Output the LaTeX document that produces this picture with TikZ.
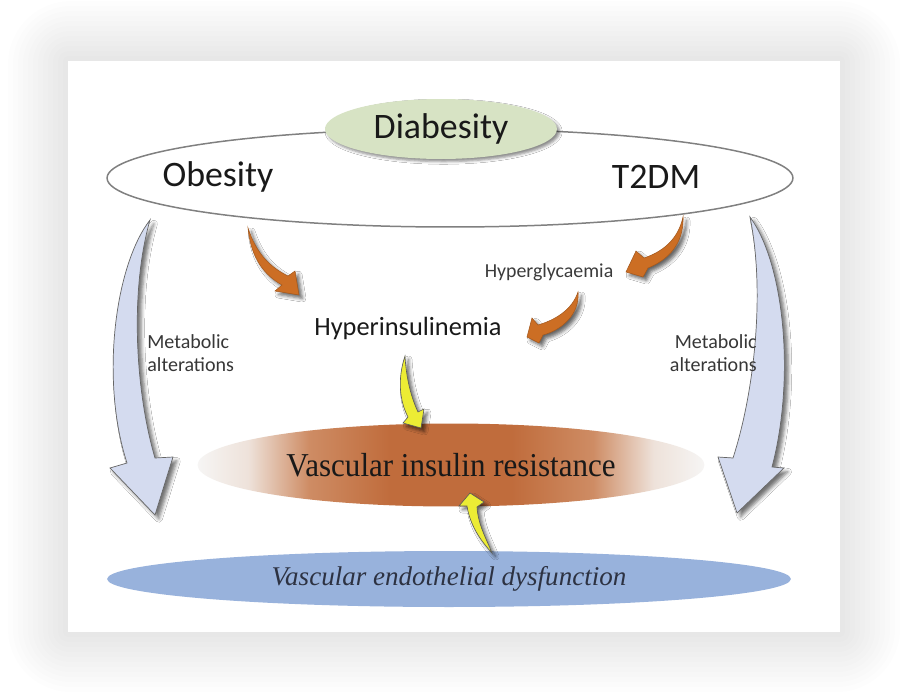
\documentclass[tikz,border=0pt]{standalone}
\usepackage{fontspec}
\setmainfont{Carlito}
\newfontfamily\serifT{Liberation Serif}
\usetikzlibrary{shapes.geometric,shadows.blur}

\definecolor{sage}{RGB}{215,227,196}
\definecolor{lav}{RGB}{212,219,239}
\definecolor{orng}{RGB}{204,110,36}
\definecolor{yel}{RGB}{236,236,52}
\definecolor{bluee}{RGB}{152,178,220}
\definecolor{vir}{RGB}{192,108,60}
\definecolor{virm}{RGB}{206,140,100}
\definecolor{virl}{RGB}{238,226,218}
\definecolor{virE}{RGB}{246,245,244}
\definecolor{txt}{RGB}{25,25,25}
\definecolor{mtxt}{RGB}{55,55,55}

\pgfdeclarehorizontalshading{virshade}{100bp}{color(0bp)=(virE); color(25bp)=(virE); color(30bp)=(virl); color(36bp)=(virm); color(44bp)=(vir); color(56bp)=(vir); color(64bp)=(virm); color(70bp)=(virl); color(75bp)=(virE); color(100bp)=(virE)}

\tikzset{
  ell/.style={ellipse, inner sep=0pt},
  bigarrow/.style={fill=lav, draw=black!60, line width=0.4pt,
    blur shadow={shadow xshift=2.2pt, shadow yshift=-2.2pt, shadow blur radius=2pt, shadow opacity=55}},
  orarrow/.style={fill=orng, draw=orng!80!black, line width=0.3pt,
    blur shadow={shadow xshift=2pt, shadow yshift=-2pt, shadow blur radius=2pt, shadow opacity=60}},
  yelarrow/.style={fill=yel, draw=black!65, line width=0.35pt,
    blur shadow={shadow xshift=2pt, shadow yshift=-2pt, shadow blur radius=2pt, shadow opacity=60}},
  bigtxt/.style={text=txt, font=\fontsize{20.4}{24}\selectfont},
  mettxt/.style={text=mtxt, font=\fontsize{11.4}{13.2}\selectfont, inner sep=0pt},
}

\begin{document}
\begin{tikzpicture}[x=0.02cm, y=-0.02cm]
\useasboundingbox (0,0) rectangle (900,697);
\fill[white] (0,0) rectangle (900,697);
% panel glow
\foreach \i [evaluate=\i as \r using \i*3] in {1,...,12}
  \fill[black, opacity=0.006, rounded corners=\r pt] (68-5*\i,61-5*\i) rectangle (840+5*\i,632+5*\i);
\fill[white] (68,61) rectangle (840,632);

% top ellipses
\node[ell, draw=black!50, line width=0.85pt, minimum width=13.72cm, minimum height=1.96cm] (outer) at (450,178) {};
\node[ell, fill=sage, minimum width=4.64cm, minimum height=1.2cm, bigtxt,
  blur shadow={shadow xshift=1.5pt, shadow yshift=-1.5pt, shadow blur radius=1.5pt, shadow opacity=45}] (diab) at (441,129) {Diabesity};
\node[bigtxt] (obes) at (218,177) {Obesity};
\node[bigtxt] (t2dm) at (656,177) {T2DM};

% big side arrows
\fill[bigarrow] (150,220) .. controls (115,265) and (100,380) .. (127,463) -- (110,468) -- (155,515) -- (173,457) -- (155,458) .. controls (135,390) and (130,290) .. cycle;
\fill[bigarrow] (750,217) .. controls (785,265) and (795,380) .. (772,467) -- (784,468) -- (737,513) -- (718,457) -- (733,458) .. controls (755,390) and (765,290) .. cycle;

% lower ellipses
\node[ell, shading=virshade, minimum width=10.14cm, minimum height=1.66cm,
  font=\serifT\fontsize{19}{22}\selectfont, text=black!90] (vir) at (451,465) {\scalebox{0.93}[1]{Vascular insulin resistance}};
\node[ell, fill=bluee, minimum width=13.68cm, minimum height=1.12cm,
  font=\serifT\itshape\fontsize{15.4}{18}\selectfont, text={rgb,255:red,45;green,50;blue,66}] (ved) at (449,579) {Vascular endothelial dysfunction};

% labels
\node[text=txt, font=\fontsize{15}{17}\selectfont] (hins) at (408,328) {Hyperinsulinemia};
\node[text=txt!85, font=\fontsize{11.3}{13}\selectfont] (hgly) at (549,272) {Hyperglycaemia};
\node[mettxt, anchor=west, align=left] (metl) at (147,353) {Metabolic\\alterations};
\node[mettxt, anchor=east, align=right] (metr) at (757,353) {Metabolic\\alterations};

% orange arrows
\fill[orarrow] (248,228) .. controls (256,252) and (268,266) .. (288,276) -- (295,271) -- (299,295) -- (275,291) -- (282,285) .. controls (264,275) and (251,258) .. cycle;
\fill[orarrow] (683,217) .. controls (678,240) and (662,252) .. (644,258) -- (636,251) -- (626,272) -- (643,277) -- (648,268) .. controls (668,260) and (684,244) .. cycle;
\fill[orarrow] (578,292) .. controls (572,310) and (555,320) .. (538,325) -- (532,318) -- (527,337) -- (539,343) -- (543,335) .. controls (562,330) and (580,314) .. cycle;

% yellow arrows
\fill[yelarrow] (405,356) .. controls (397,380) and (400,402) .. (408,417) -- (403,423) -- (421,428) -- (424,409) -- (418,412) .. controls (410,395) and (406,375) .. cycle;
\fill[yelarrow] (492,553) .. controls (480,540) and (470,525) .. (467,506) -- (459,506) -- (470,493) -- (484,502) -- (477,507) .. controls (478,525) and (487,540) .. cycle;
\end{tikzpicture}
\end{document}
